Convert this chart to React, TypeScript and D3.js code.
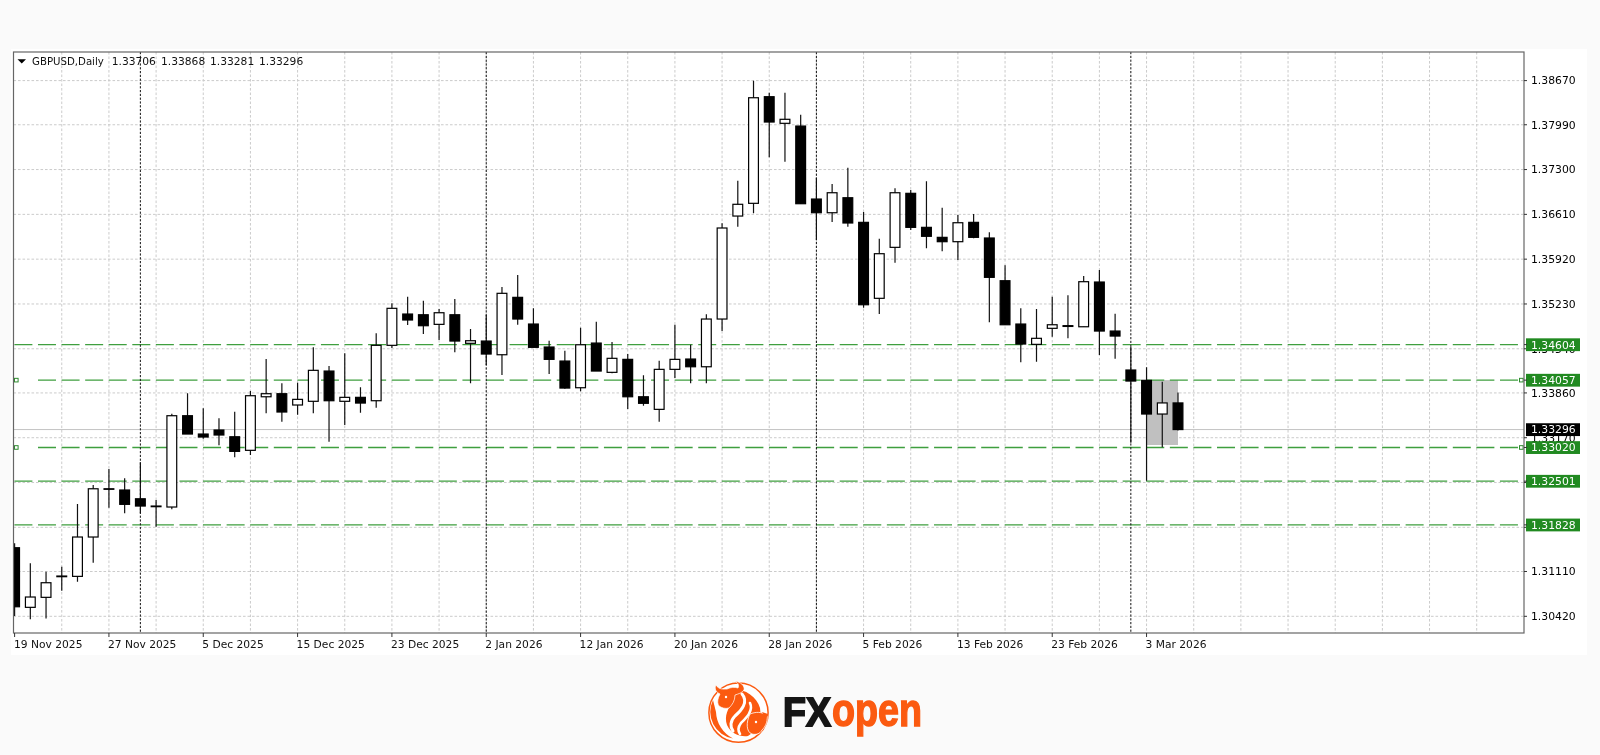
import React from "react";
import * as d3 from "d3";

const symbolTitle = "GBPUSD,Daily";
const headerValues = ["1.33706", "1.33868", "1.33281", "1.33296"];

const opens = [
  1.31476,1.30558,1.30712,1.31040,1.31035,1.31641,1.32384,1.32365,1.32230,1.32118,
  1.32103,1.33509,1.33227,1.33289,1.33185,1.32976,1.33801,1.33848,1.33674,1.33731,
  1.34197,1.33731,1.33792,1.33740,1.34593,1.35075,1.35064,1.34916,1.35064,1.34624,
  1.34659,1.34448,1.35332,1.34921,1.34567,1.34351,1.33940,1.34628,1.34177,1.34377,
  1.33801,1.33607,1.34223,1.34382,1.34263,1.34998,1.36584,1.36780,1.38422,1.38012,
  1.37970,1.36846,1.36635,1.36866,1.36487,1.35317,1.36102,1.36934,1.36410,1.36256,
  1.36189,1.36487,1.36246,1.35588,1.34921,1.34608,1.34855,1.34896,1.34879,1.35568,
  1.34813,1.34213,1.34054,1.33535,1.33706,
];
const highs = [
  1.31544,1.31236,1.31106,1.31183,1.32149,1.32441,1.32688,1.32545,1.32791,1.32210,
  1.33540,1.33854,1.33623,1.33469,1.33570,1.33889,1.34382,1.34008,1.34017,1.34562,
  1.34274,1.34470,1.33946,1.34778,1.35240,1.35342,1.35280,1.35152,1.35306,1.34844,
  1.35064,1.35491,1.35676,1.35163,1.34664,1.34510,1.34864,1.34957,1.34644,1.34459,
  1.34131,1.34356,1.34910,1.34602,1.35070,1.36472,1.37128,1.38668,1.38483,1.38483,
  1.38144,1.37174,1.37077,1.37328,1.36646,1.36235,1.37011,1.36985,1.37119,1.36712,
  1.36600,1.36615,1.36333,1.35825,1.35163,1.35152,1.35342,1.35363,1.35660,1.35753,
  1.35080,1.34571,1.34254,1.34032,1.33868,
];
const lows = [
  1.30424,1.30373,1.30388,1.30814,1.30952,1.31245,1.32092,1.32006,1.32006,1.31799,
  1.32067,1.33227,1.33155,1.33053,1.32868,1.32904,1.33546,1.33416,1.33524,1.33546,
  1.33108,1.33366,1.33555,1.33632,1.34551,1.34906,1.34767,1.34675,1.34485,1.34008,
  1.34290,1.34136,1.34910,1.34562,1.34151,1.33925,1.33885,1.34197,1.34162,1.33612,
  1.33663,1.33416,1.34089,1.34008,1.34008,1.34813,1.36420,1.36626,1.37488,1.37421,
  1.36774,1.36215,1.36492,1.36420,1.35172,1.35075,1.35865,1.36369,1.36087,1.36041,
  1.35907,1.36241,1.34947,1.34910,1.34331,1.34340,1.34725,1.34701,1.34879,1.34444,
  1.34387,1.33093,1.32508,1.33022,1.33281,
];
const closes = [
  1.30567,1.30717,1.30937,1.31030,1.31641,1.32384,1.32376,1.32144,1.32118,1.32108,
  1.33509,1.33227,1.33181,1.33212,1.32960,1.33817,1.33848,1.33566,1.33761,1.34208,
  1.33740,1.33792,1.33704,1.34593,1.35163,1.34983,1.34895,1.35095,1.34659,1.34664,
  1.34459,1.35394,1.34998,1.34562,1.34377,1.33935,1.34602,1.34197,1.34393,1.33801,
  1.33700,1.34223,1.34377,1.34263,1.34998,1.36400,1.36765,1.38406,1.38032,1.38074,
  1.36774,1.36635,1.36943,1.36477,1.35218,1.36004,1.36943,1.36410,1.36272,1.36189,
  1.36481,1.36256,1.35640,1.34910,1.34613,1.34701,1.34910,1.34884,1.35573,1.34813,
  1.34736,1.34043,1.33535,1.33706,1.33296,
];

const priceTicks = [1.3867,1.3799,1.373,1.3661,1.3592,1.3523,1.3454,1.3386,1.3317,1.3248,1.3179,1.3111,1.3042];
const dateTicks = ["19 Nov 2025","27 Nov 2025","5 Dec 2025","15 Dec 2025","23 Dec 2025","2 Jan 2026","12 Jan 2026","20 Jan 2026","28 Jan 2026","5 Feb 2026","13 Feb 2026","23 Feb 2026","3 Mar 2026"];
const dateTickBars = [0,6,12,18,24,30,36,42,48,54,60,66,72];
const gridBars = d3.range(3, 96, 3);
const periodBars = [8, 30, 51, 71];
const supportLevels = [1.34604, 1.34057, 1.3302, 1.32501, 1.31828];
const selectedLevels = [1.34057, 1.3302];
const lastClose = 1.33296;
const rangeBox = { fromBar: 72, toBar: 74, top: 1.34057, bottom: 1.33058 };

const FONT = "'DejaVu Sans', sans-serif";
const ORANGE = "#fb5a10";
const x = d3.scaleLinear().domain([0, 74]).range([14.6, 1178]);
const y = d3.scaleLinear().domain([1.3867, 1.3042]).range([80.6, 616.3]);
const L = 13.5, R = 1524, T = 52, B = 633;
const fmt = d3.format(".5f");

function App() {
  return (
    <svg width={1600} height={755} style={{ position: "absolute", left: 0, top: 0, display: "block" }} fontFamily={FONT}>
      <rect width={1600} height={755} fill="#fafafa" />
      <rect x={11} y={49} width={1576} height={606} fill="#ffffff" />
      <g style={{ filter: "blur(0.3px)" }}>
        {/* grid */}
        {priceTicks.map((p) => (
          <line key={p} x1={L} x2={R} y1={y(p)} y2={y(p)} stroke="#cbcbcb" strokeDasharray="2.6 1.9" />
        ))}
        {gridBars.map((b) => (
          <line key={b} x1={x(b)} x2={x(b)} y1={T} y2={B} stroke="#cbcbcb" strokeDasharray="2.6 1.9" />
        ))}
        {/* last price line */}
        <line x1={L} x2={R} y1={y(lastClose)} y2={y(lastClose)} stroke="#c4c4c4" />
        {/* box */}
        <rect
          x={x(rangeBox.fromBar)}
          width={x(rangeBox.toBar) - x(rangeBox.fromBar)}
          y={y(rangeBox.top)}
          height={y(rangeBox.bottom) - y(rangeBox.top)}
          fill="#c0c0c0"
        />
        {/* levels */}
        {supportLevels.map((p) => {
          const sel = selectedLevels.includes(p);
          return (
            <line key={p} x1={sel ? 38 : 14.4} x2={sel ? 1520 : 1518} y1={y(p)} y2={y(p)} stroke="#3f9f3f" strokeWidth={1.4} strokeDasharray="18 5.58" />
          );
        })}
        {selectedLevels.map((p) => (
          <g key={p}>
            <rect x={14.5} y={y(p) - 1.8} width={3.6} height={3.6} fill="#fff" stroke="#2e8b2e" />
            <rect x={1519.5} y={y(p) - 1.8} width={3.6} height={3.6} fill="#fff" stroke="#2e8b2e" />
          </g>
        ))}
        {/* period separators */}
        {periodBars.map((b) => (
          <line key={b} x1={x(b)} x2={x(b)} y1={T} y2={B} stroke="#111" strokeDasharray="2.2 1.6" />
        ))}
        {/* candles */}
        <svg x={L} y={T} width={R - L} height={B - T} viewBox={`${L} ${T} ${R - L} ${B - T}`} overflow="hidden">
          {opens.map((o, i) => {
            const c = closes[i];
            const top = y(Math.max(o, c));
            const bot = y(Math.min(o, c));
            return (
              <g key={i}>
                <line x1={x(i)} x2={x(i)} y1={y(highs[i])} y2={y(lows[i])} stroke="#111" strokeWidth={1.2} />
                <rect x={x(i) - 4.9} y={top} width={9.8} height={Math.max(bot - top, 0.01)} fill={c >= o ? "#fff" : "#000"} stroke="#000" strokeWidth={1.2} />
              </g>
            );
          })}
        </svg>
        {/* frame */}
        <rect x={L} y={T} width={R - L} height={B - T} fill="none" stroke="#666" strokeWidth={1.2} />
        {/* axis ticks */}
        {priceTicks.map((p) => (
          <line key={p} x1={R} x2={R + 3} y1={y(p)} y2={y(p)} stroke="#333" />
        ))}
        {dateTickBars.map((b) => (
          <line key={b} x1={x(b)} x2={x(b)} y1={B} y2={B + 4} stroke="#333" />
        ))}
        {/* axis labels */}
        {priceTicks.map((p) => (
          <text key={p} x={1531} y={y(p)} dy="0.36em" fontSize={10.8} fill="#000">{fmt(p)}</text>
        ))}
        {dateTicks.map((d, i) => (
          <text key={d} x={i === 0 ? 14 : x(dateTickBars[i]) - 1} y={648} fontSize={10.7} fill="#111">{d}</text>
        ))}
        {/* price tags */}
        {supportLevels.map((p) => (
          <g key={p}>
            <rect x={1526} y={y(p) - 6.3} width={54} height={12.8} fill="#218a21" />
            <line x1={R} x2={R + 3} y1={y(p)} y2={y(p)} stroke="#333" />
            <text x={1531} y={y(p)} dy="0.36em" fontSize={10.8} fill="#fff">{fmt(p)}</text>
          </g>
        ))}
        <rect x={1526} y={y(lastClose) - 6.3} width={54} height={12.8} fill="#000" />
        <text x={1531} y={y(lastClose)} dy="0.36em" fontSize={10.8} fill="#fff">{fmt(lastClose)}</text>
        {/* header */}
        <path d="M17.5 59.2 H26 L21.75 63.4 Z" fill="#000" />
        <text x={32} y={61.5} dy="0.36em" fontSize={10.2} fill="#111">{symbolTitle}</text>
        {headerValues.map((v, i) => (
          <text key={v} x={[111.7, 161, 210, 259][i]} y={61.5} dy="0.36em" fontSize={10.7} fill="#111">{v}</text>
        ))}
      </g>
      {/* logo */}
      <g style={{ filter: "blur(0.4px)" }}>
        <circle cx={738.5} cy={712.7} r={29.6} fill="#fff" stroke={ORANGE} strokeWidth={1.5} />
        {/* inner crescent, lower left */}
        <path d="M713 700 A27 27 0 0 0 733 738.5 A31 31 0 0 1 716 712 Z" fill={ORANGE} />
        {/* body */}
        <path d="M732 689 C746 689 757 697 760 708 C762 720 757 731 748 736 C740 737 731 734 727 725 C724 716 728 708 733 702 Z" fill={ORANGE} />
        {/* white swooshes */}
        <path d="M742 694 C749 702 741 711 735 716 C730 721 730 727 733 731" fill="none" stroke="#fff" strokeWidth={3} strokeLinecap="round" />
        <path d="M750 703 C754 711 745 719 741 723 C738 727 738 731 740 734" fill="none" stroke="#fff" strokeWidth={2.6} strokeLinecap="round" />
        {/* lower head */}
        <path d="M750 714 C755 712 762 711 767 716 C768 722 765 727 762 730 C760 734 756 735 752 734 C746 732 746 722 750 714 Z" fill={ORANGE} stroke="#fff" strokeWidth={0.8} />
        <path d="M762 712 L768 714 L766 719 Z" fill={ORANGE} />
        {/* bull head with horns */}
        <path d="M716 685 C719 690 724 689 727 689 C731 687 735 687 738 688 C740 684 736 682 735 681 C741 682 745 686 744 690 C742 693 738 694 735 695 C735 701 732 705 729 708 C725 709 722 708 719 706 C716 702 719 696 720 694 C716 692 714 689 716 685 Z" fill={ORANGE} stroke="#fff" strokeWidth={0.7} />
        <circle cx={756} cy={722} r={1.2} fill="#fff" />
        <circle cx={726} cy={697} r={1.2} fill="#fff" />
        <text x={783} y={726.2} fontFamily="'Liberation Sans', sans-serif" fontWeight={700} fontSize={40} fill="#151515" stroke="#151515" strokeWidth={1.8} textLength={48} lengthAdjust="spacingAndGlyphs">FX</text>
        <text x={832} y={725.8} fontFamily="'Liberation Sans', sans-serif" fontWeight={700} fontSize={46} fill={ORANGE} stroke={ORANGE} strokeWidth={1.4} textLength={90} lengthAdjust="spacingAndGlyphs">open</text>
      </g>
    </svg>
  );
}

export default App;
